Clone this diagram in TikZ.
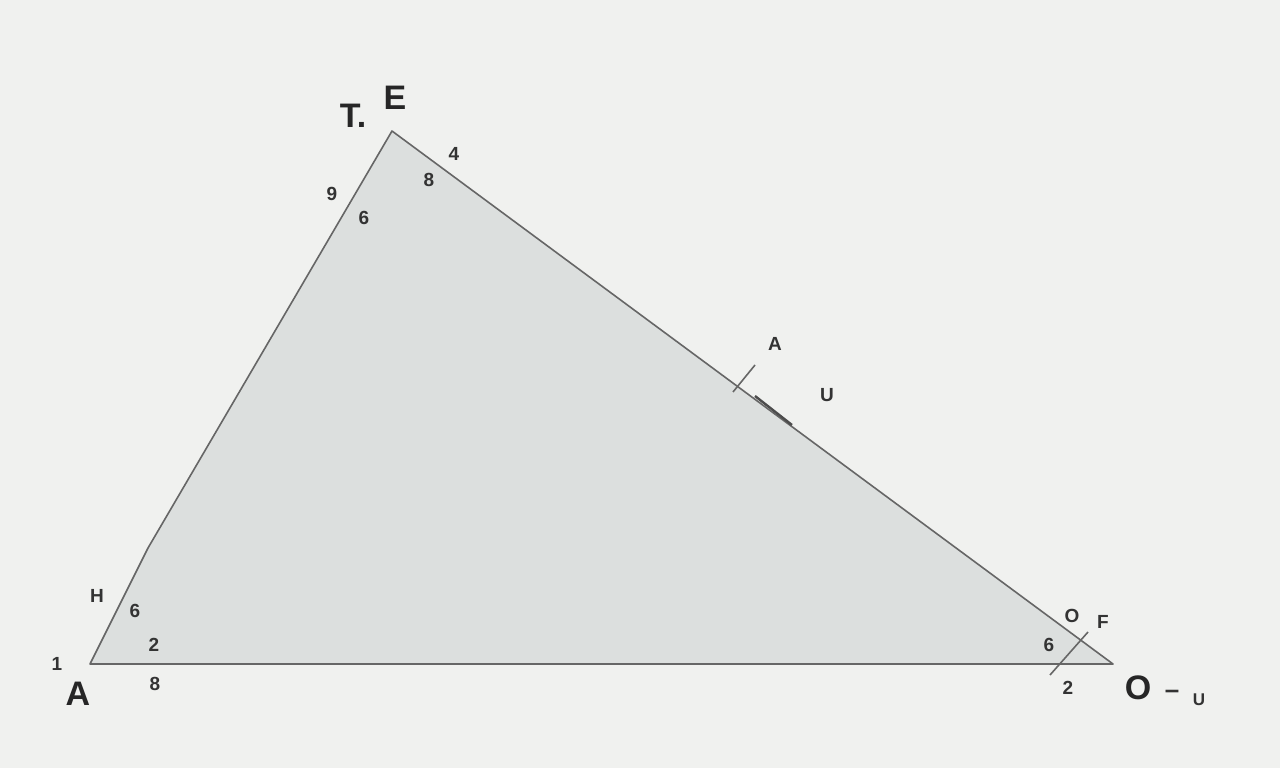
\documentclass[tikz,border=0pt]{standalone}
\usepackage{fontspec}
\setmainfont{Liberation Sans}
\begin{document}
\begin{tikzpicture}[x=1pt,y=-1pt,
  big/.style={font=\fontsize{34}{36}\selectfont\bfseries,text=black!85,inner sep=0pt},
  small/.style={font=\fontsize{19}{20}\selectfont\bfseries,text=black!80,inner sep=0pt},
  edge/.style={draw=black!60,line width=1.6pt,line join=round}]
\definecolor{bg}{HTML}{F0F1EF}
\definecolor{tri}{HTML}{DCDFDE}
\fill[bg] (0,0) rectangle (1280,768);
\useasboundingbox (0,0) rectangle (1280,768);
\coordinate (A) at (90,664);
\coordinate (K) at (148,548);
\coordinate (E) at (392,131);
\coordinate (O) at (1113,664);
\filldraw[edge,fill=tri] (A) -- (K) -- (E) -- (O) -- cycle;
% tick marks
\coordinate (t1) at (733,392);
\coordinate (t2) at (755,365);
\draw[edge] (t1) -- (t2);
\coordinate (s1) at (755,396);
\coordinate (s2) at (792,425);
\draw[draw=black!70,line width=2.4pt] (s1) -- (s2);
\coordinate (u1) at (1050,675);
\coordinate (u2) at (1088,632);
\draw[edge] (u1) -- (u2);
% labels
\node[big] (lT) at (353,116) {T.};
\node[big] (lE) at (395,98) {E};
\node[small] (l4) at (454,154) {4};
\node[small] (l8a) at (429,180) {8};
\node[small] (l9) at (332,194) {9};
\node[small] (l6a) at (364,218) {6};
\node[small] (lA2) at (775,344) {A};
\node[small] (lU2) at (827,395) {U};
\node[small] (lH) at (97,596) {H};
\node[small] (l6b) at (135,611) {6};
\node[small] (l2a) at (154,645) {2};
\node[small] (l1) at (57,664) {1};
\node[big] (lA) at (78,694) {A};
\node[small] (l8b) at (155,684) {8};
\node[small] (lO2) at (1072,616) {O};
\node[small] (lF) at (1103,622) {F};
\node[small] (l6c) at (1049,645) {6};
\node[small] (l2b) at (1068,688) {2};
\node[big] (lO) at (1138,688) {O};
\node[font=\fontsize{26}{28}\selectfont\bfseries,text=black!80,inner sep=0pt] (ldash) at (1172,694) {–};
\node[font=\fontsize{17}{18}\selectfont\bfseries,text=black!80,inner sep=0pt] (lU) at (1199,700) {U};
\end{tikzpicture}
\end{document}
